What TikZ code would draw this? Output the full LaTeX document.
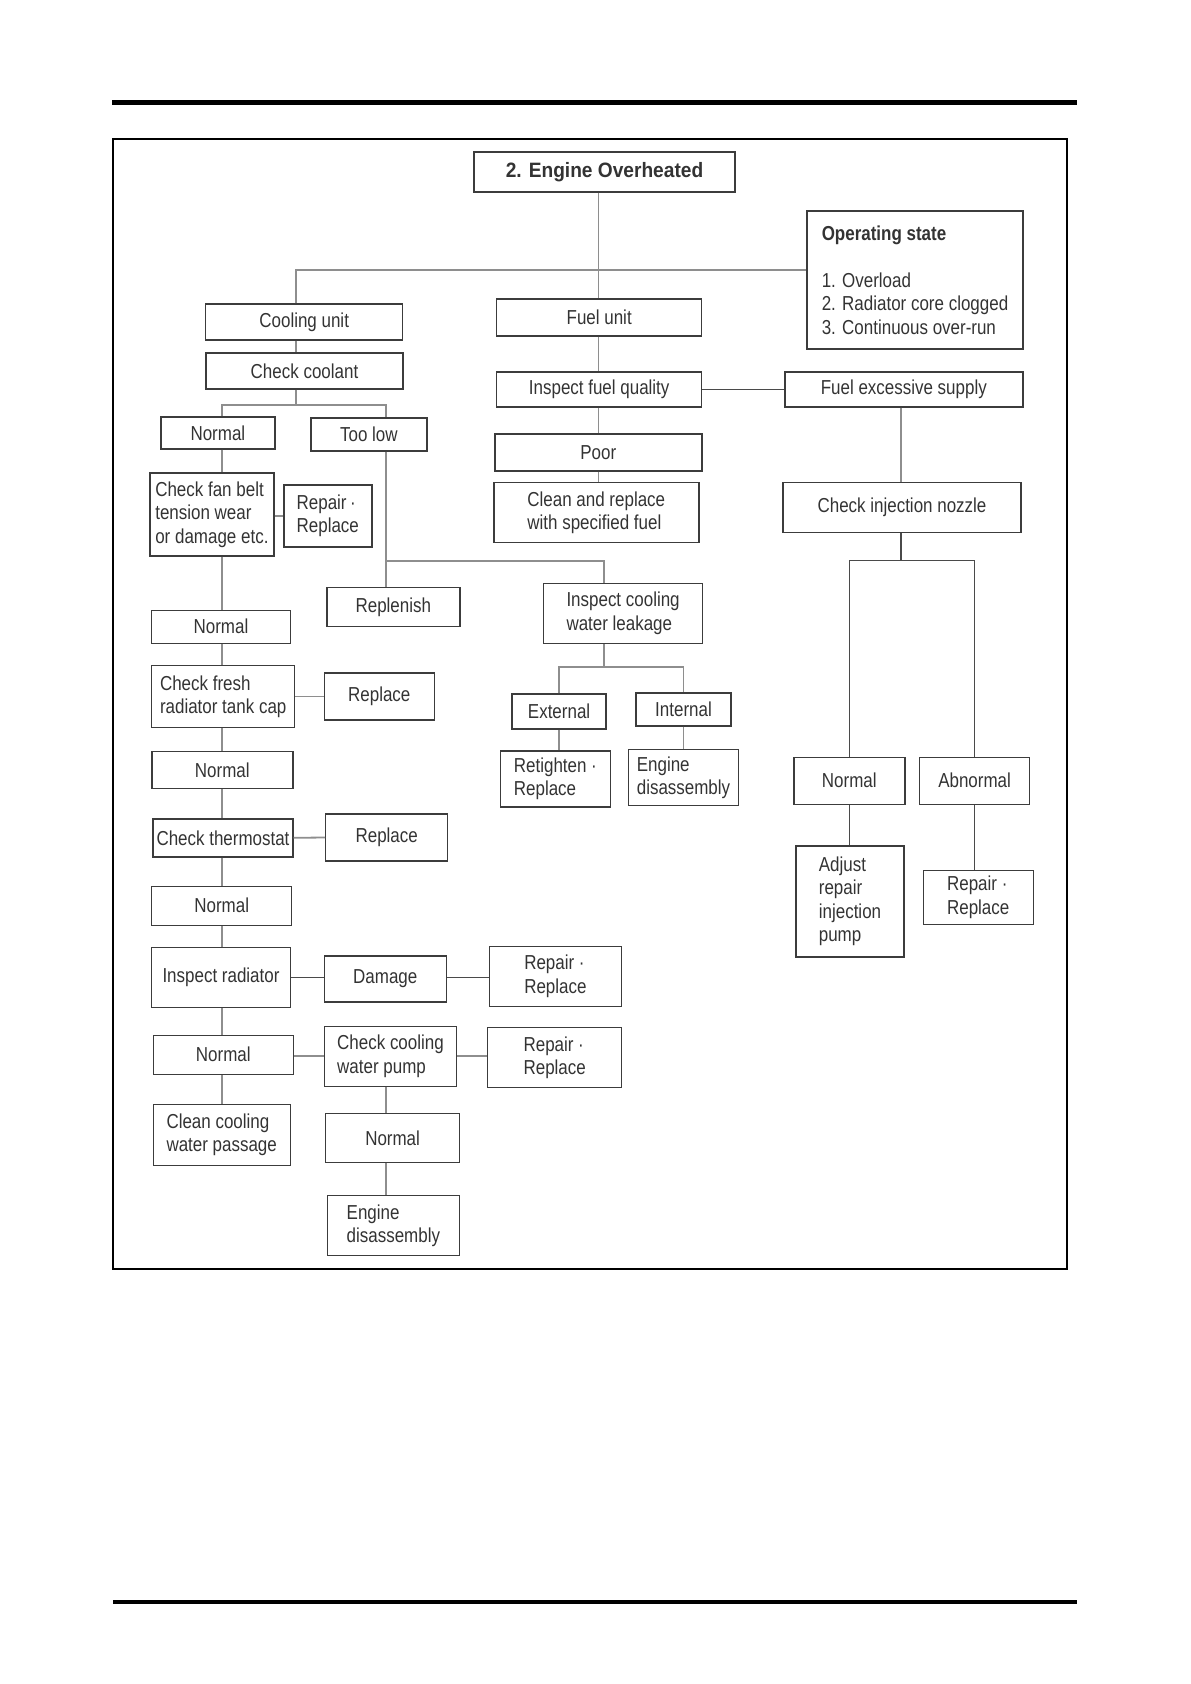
\documentclass[tikz,border=0pt]{standalone}
\usepackage{fontspec}
\setmainfont{Liberation Sans}[FakeStretch=0.84]
\newfontfamily\headfont{Liberation Sans}[FakeStretch=0.92]

\definecolor{boxline}{HTML}{3C3C3C}
\definecolor{txt}{HTML}{333333}
\definecolor{lnk}{HTML}{8E8E8E}
\definecolor{dlnk}{HTML}{4A4A4A}

\tikzset{
	box/.style={draw=boxline, line width=0.7bp, text=txt, inner sep=1bp, align=center,
		font=\fontsize{10.1bp}{11.7bp}\selectfont},
	sz/.style 2 args={minimum width=#1*0.5bp, minimum height=#2*0.5bp},
	link/.style={draw=lnk, line width=0.9bp},
	dlink/.style={draw=dlnk, line width=0.75bp}
}

\begin{document}
\begin{tikzpicture}[x=0.5bp,y=-0.5bp]
	\useasboundingbox (0,0) rectangle (1191,1684);
	% page rules and frame
	\fill (112,100) rectangle (1077,105);
	\fill (113,1600) rectangle (1077,1604);
	\draw[line width=1bp] (112.7,139.3) rectangle (1066.5,1268.5);

	% head
	\node [box, sz={261}{40}, font=\headfont\bfseries\fontsize{10.4bp}{12bp}\selectfont] (title) at (604.5,172) {2. Engine Overheated};
	\node [box, sz={216}{138}, align=left] (opstate) at (915,280) {\textbf{Operating state}\\[11.7bp]1. Overload\\2. Radiator core clogged\\3. Continuous over-run};

	% cooling unit
	\node [box, sz={197}{36}] (cool) at (304.2,322) {Cooling unit};
	\node [box, sz={197}{36}] (coolant) at (304.5,371) {Check coolant};
	\node [box, sz={114}{32}] (n1) at (217.9,433) {Normal};
	\node [box, sz={116}{33}] (toolow) at (368.9,434.5) {Too low};
	\node [box, sz={124}{83}, align=left] (belt) at (211.9,514.5) {Check fan belt\\tension wear\\or damage etc.};
	\node [box, sz={88}{62}, align=left] (rep1) at (327.8,516) {Repair\,·\\Replace};
	\node [box, sz={139}{33}] (n2) at (221,626.7) {Normal};
	\node [box, sz={143}{62}, align=left] (cap) at (223.2,696.5) {Check fresh\\radiator tank cap};
	\node [box, sz={110}{47}] (rpl1) at (379.3,696.5) {Replace};
	\node [box, sz={141}{37}] (n3) at (222.3,770) {Normal};
	\node [box, sz={140}{38}] (thermo) at (223,837.8) {Check thermostat};
	\node [box, sz={122}{47}] (rpl2) at (386.7,837.5) {Replace};
	\node [box, sz={140}{39}] (n4) at (221.7,905.7) {Normal};
	\node [box, sz={138.5}{60}] (rad) at (221,977.7) {Inspect radiator};
	\node [box, sz={122}{46}] (dmg) at (385.3,978.9) {Damage};
	\node [box, sz={132}{60}, align=left] (rep2) at (555.4,976.3) {Repair ·\\Replace};
	\node [box, sz={140}{39}] (n5) at (223.3,1054.7) {Normal};
	\node [box, sz={132}{60}, align=left] (pump) at (390.5,1056.2) {Check cooling\\water pump};
	\node [box, sz={134}{60}, align=left] (rep3) at (554.7,1057.7) {Repair ·\\Replace};
	\node [box, sz={137}{61}, align=left] (passage) at (221.7,1134.8) {Clean cooling\\water passage};
	\node [box, sz={134}{49}] (n6) at (392.6,1138) {Normal};
	\node [box, sz={132}{60}, align=left] (dis2) at (393.4,1225.7) {Engine\\disassembly};

	% too low branch
	\node [box, sz={133}{39}] (replen) at (393.3,607.2) {Replenish};
	\node [box, sz={159}{60}, align=left] (leak) at (623.1,613.3) {Inspect cooling\\water leakage};
	\node [box, sz={94}{35}] (ext) at (559.1,711.5) {External};
	\node [box, sz={95}{33}] (int) at (683.5,709.3) {Internal};
	\node [box, sz={110}{56}, align=left] (retight) at (555.4,778.8) {Retighten ·\\Replace};
	\node [box, sz={110}{56}, align=left] (dis1) at (683.5,777.5) {Engine\\disassembly};

	% fuel unit
	\node [box, sz={205}{37}] (fuel) at (599.2,317.3) {Fuel unit};
	\node [box, sz={205}{35}] (fq) at (599.2,389.3) {Inspect fuel quality};
	\node [box, sz={207}{37}] (poor) at (598.3,452.3) {Poor};
	\node [box, sz={205}{60}, align=left] (cleanf) at (596.3,512.7) {Clean and replace\\with specified fuel};
	\node [box, sz={238}{35}] (fex) at (903.8,389.3) {Fuel excessive supply};
	\node [box, sz={238}{50}] (nozzle) at (902,507.5) {Check injection nozzle};
	\node [box, sz={111}{47}] (nr) at (849.3,780.7) {Normal};
	\node [box, sz={110}{47}] (abn) at (974.6,780.7) {Abnormal};
	\node [box, sz={108}{111}, align=left] (adjust) at (850,901.4) {Adjust\\repair\\injection\\pump};
	\node [box, sz={110}{54}, align=left] (rep4) at (978.2,897.2) {Repair ·\\Replace};

	% lanes
	\coordinate (hub) at (598.5,270);
	\coordinate (laneC) at (296,0);
	\coordinate (laneL) at (221.7,0);
	\coordinate (laneT) at (386.2,0);
	\coordinate (laneK) at (604,0);
	\coordinate (laneN) at (901,0);
	\coordinate (fork) at (296,405);
	\coordinate (tee) at (386.2,560.7);
	\coordinate (split) at (604,667.3);
	\coordinate (split2) at (901,560.7);

	% connectors
	\draw[link] (title.south -| hub) -- (fuel.north -| hub);
	\draw[link] (cool.north -| laneC) |- (hub) -- (hub -| opstate.west);
	\draw[link] (cool.south -| laneC) -- (coolant.north -| laneC);
	\draw[link] (coolant.south -| laneC) -- (fork);
	\draw[link] (n1.north -| laneL) |- (fork) -| (toolow.north -| laneT);
	\foreach \a/\b in {n1/belt, belt/n2, n2/cap, cap/n3, n3/thermo, thermo/n4, n4/rad, rad/n5, n5/passage}
		\draw[link] (\a.south -| laneL) -- (\b.north -| laneL);
	\draw[link] (belt.east |- rep1.west) -- (rep1.west);
	\draw[link] (cap.east) -- (rpl1.west);
	\draw[link] (thermo.east) -- (rpl2.west);
	\draw[dlink] (rad.east) -- (rad.east -| dmg.west) (dmg.east |- rad.east) -- (rad.east -| rep2.west);
	\draw[link] (n5.east |- pump.west) -- (pump.west) (pump.east) -- (pump.east -| rep3.west);
	\draw[link] (pump.south -| laneT) -- (n6.north -| laneT) (n6.south -| laneT) -- (dis2.north -| laneT);

	\draw[link] (toolow.south -| laneT) -- (replen.north -| laneT);
	\draw[link] (tee) -| (leak.north -| laneK);
	\draw[link] (leak.south -| laneK) -- (split);
	\draw[link] (ext.north) |- (split) -| (int.north);
	\draw[link] (ext.south) -- (ext.south |- retight.north) (int.south) -- (int.south |- dis1.north);

	\foreach \a/\b in {fuel/fq, fq/poor, poor/cleanf}
		\draw[link] (\a.south -| hub) -- (\b.north -| hub);
	\draw[dlink] (fq.east) -- (fex.west);
	\draw[link] (fex.south -| laneN) -- (nozzle.north -| laneN);
	\draw[dlink] (nozzle.south -| laneN) -- (split2);
	\draw[dlink] (nr.north) |- (split2) -| (abn.north);
	\draw[dlink] (nr.south) -- (nr.south |- adjust.north) (abn.south) -- (abn.south |- rep4.north);
\end{tikzpicture}
\end{document}
